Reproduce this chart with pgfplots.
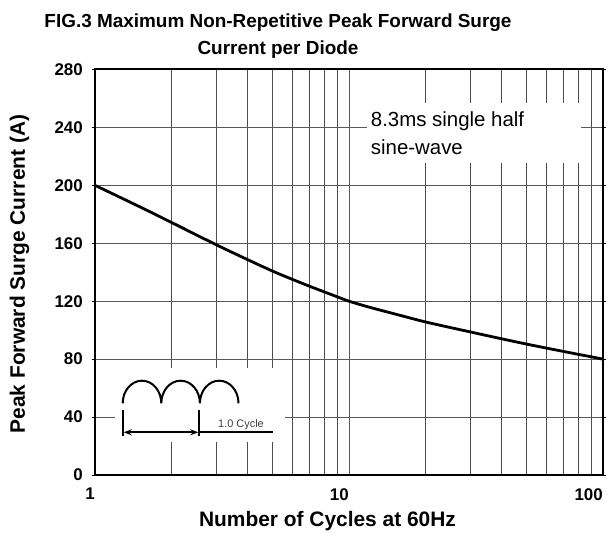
\documentclass[border=0pt]{standalone}
\usepackage{pgfplots}
\pgfplotsset{compat=1.18}
\usepackage{fontspec}
\setmainfont{Liberation Sans}
\usetikzlibrary{arrows.meta}
\begin{document}
\begin{tikzpicture}[x=1bp,y=1bp]
\path[use as bounding box] (-95,-58) rectangle (513,475);
\begin{axis}[
  at={(0,0)}, anchor=south west,
  scale only axis, width=508bp, height=405.5bp,
  xmode=log, log basis x=10,
  xmin=1, xmax=100, ymin=0, ymax=280,
  xtick={1,10,100}, xticklabels={1,10,100},
  minor xtick={2,3,4,5,6,7,8,9,20,30,40,50,60,70,80,90},
  ytick={0,40,...,280},
  grid=both,
  major grid style={line width=1bp, black!65},
  minor grid style={line width=0.9bp, black!70},
  axis line style={line width=2bp, black},
  tick align=outside,
  major tick length=3bp, minor tick length=0bp,
  xtick style={draw=none},
  ytick style={line width=0.9bp, black},
  tick label style={font=\fontsize{17}{20}\selectfont\bfseries},
  /pgf/number format/assume math mode=true,
  xticklabel style={anchor=north east, inner sep=0pt, yshift=-10bp},
  yticklabel style={anchor=east, inner sep=0pt, xshift=-9bp},
  log ticks with fixed point,
]
\addplot[line width=2.8bp, black, smooth, tension=0.5] coordinates {
(1,200) (1.5,185.2) (2,174.4) (3,159) (4,148.6) (5,140.8) (6,135) (7,130.3) (8,126.4) (9,123) (10,120)
(12,115.9) (15,111.4) (20,105.7) (30,98.8) (40,94) (50,90.4) (60,87.6) (70,85.3) (80,83.3) (90,81.6) (100,80)
};
\end{axis}
% annotation box
\fill[white] (271.7,311.7) rectangle (486,371.7);
\node[anchor=base west, inner sep=0pt, font=\fontsize{20.5}{24}\selectfont] at (275.7,348) {8.3ms single half};
\node[anchor=base west, inner sep=0pt, font=\fontsize{20.5}{24}\selectfont] at (275.7,320) {sine-wave};
% inset
\fill[white] (20,33) rectangle (190,107);
\draw[line width=2bp, black] (27.7,71.7) arc[start angle=180, end angle=0, x radius=19.3, y radius=22.6]
  arc[start angle=180, end angle=0, x radius=19.3, y radius=22.6]
  arc[start angle=180, end angle=0, x radius=19.3, y radius=22.6];
\draw[line width=2bp] (27.7,65) -- (27.7,39);
\draw[line width=2bp] (104.3,65) -- (104.3,39);
\draw[line width=1.8bp, {Stealth[length=8bp,width=6bp]}-{Stealth[length=8bp,width=6bp]}] (28.7,42.7) -- (103.3,42.7);
\draw[line width=1.8bp] (104.3,42.7) -- (177.7,42.7);
\node[anchor=base, inner sep=0pt, text=black!75, font=\fontsize{11}{13}\selectfont] at (146,47) {1.0 Cycle};
% titles
\node[anchor=base, inner sep=0pt, font=\fontsize{19}{22}\selectfont\bfseries] at (183,447.7) {FIG.3 Maximum Non-Repetitive Peak Forward Surge};
\node[anchor=base, inner sep=0pt, font=\fontsize{19}{22}\selectfont\bfseries] at (183,420) {Current per Diode};
\node[anchor=base, inner sep=0pt, font=\fontsize{21}{24}\selectfont\bfseries] at (232.5,-51.7) {Number of Cycles at 60Hz};
\node[anchor=base, inner sep=0pt, rotate=90, font=\fontsize{21}{24}\selectfont\bfseries] at (-70,201) {Peak Forward Surge Current (A)};
\end{tikzpicture}
\end{document}
